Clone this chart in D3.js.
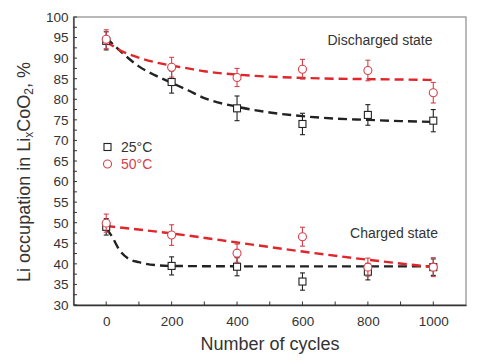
<!DOCTYPE html>
<html><head><meta charset="utf-8">
<script src="https://cdn.jsdelivr.net/npm/d3@7"></script>
<style>body{margin:0;background:#fff}svg{display:block}text{font-family:"Liberation Sans",Arial,sans-serif}</style>
</head><body><svg id="c" width="478" height="364"></svg>
<script>
const cycles = [0, 200, 400, 600, 800, 1000];
// Discharged state
const dis25 = [94.2, 84.2, 77.8, 74.0, 76.2, 74.8];
const dis25Err = [2.2, 2.7, 3.0, 2.6, 2.5, 2.7];
const dis50 = [94.6, 87.8, 85.3, 87.3, 87.0, 81.6];
const dis50Err = [2.3, 2.4, 2.2, 2.4, 2.5, 2.5];
// Charged state
const chg25 = [49.0, 39.5, 39.3, 35.7, 38.1, 39.2];
const chg25Err = [2.0, 2.2, 2.2, 2.1, 2.0, 2.0];
const chg50 = [49.9, 47.0, 42.6, 46.6, 39.2, 39.2];
const chg50Err = [2.2, 2.5, 2.2, 2.3, 2.2, 2.3];
// Fit curves: [cycles, value]
const fitDis25 = [[0,95.0],[50,91.2],[100,88.0],[150,85.8],[200,84.0],[250,82.2],[300,80.3],[400,78.2],[500,76.8],[600,75.9],[700,75.3],[800,75.0],[900,74.7],[1000,74.5]];
const fitDis50 = [[0,94.0],[50,91.6],[100,90.1],[150,89.0],[200,88.2],[250,87.5],[300,86.8],[400,86.0],[500,85.5],[600,85.2],[700,85.0],[800,84.9],[900,84.8],[1000,84.7]];
const fitChg25 = [[0,48.5],[15,47.0],[40,43.4],[65,41.4],[100,40.4],[150,39.7],[200,39.5],[400,39.4],[600,39.4],[800,39.4],[1000,39.4]];
const fitChg50 = [[0,49.2],[200,47.4],[400,45.2],[600,43.0],[800,41.0],[1000,39.2]];
const yTicks = [30,35,40,45,50,55,60,65,70,75,80,85,90,95,100];
const xTicks = [0,200,400,600,800,1000];
const legendLabels = ["25°C","50°C"];

const BLACK = "#222", RED = "#e0252b", RED_MK = "#d8404a";
const svg = d3.select("#c");
const x = d3.scaleLinear().domain([-100,1100]).range([73.5,466]);
const y = d3.scaleLinear().domain([30,100]).range([305,17]);

// frame
svg.append("rect").attr("x",x(-100)).attr("y",y(100)).attr("width",x(1100)-x(-100)).attr("height",y(30)-y(100))
  .attr("fill","none").attr("stroke","#8a8a8a").attr("stroke-width",1.2);

// axes
const yAxis = svg.append("g").attr("transform",`translate(${x(-100)},0)`)
  .call(d3.axisLeft(y).tickValues(yTicks).tickSize(0).tickPadding(5));
yAxis.select(".domain").attr("stroke","#333").attr("stroke-width",1.3);
yAxis.selectAll("text").attr("font-size",13.5).attr("fill","#333");
const yMinor = d3.range(30,100.01,2.5);
svg.append("g").selectAll("line").data(yMinor).join("line")
  .attr("x1",x(-100)).attr("x2",x(-100)+3.5).attr("y1",d=>y(d)).attr("y2",d=>y(d))
  .attr("stroke","#333").attr("stroke-width",1);

const xAxis = svg.append("g").attr("transform",`translate(0,${y(30)})`)
  .call(d3.axisBottom(x).tickValues(xTicks).tickFormat(d3.format("d")).tickSize(0).tickPadding(11));
xAxis.select(".domain").attr("stroke","#333").attr("stroke-width",1.3);
xAxis.selectAll("text").attr("font-size",13.5).attr("fill","#333");
const xMinor = d3.range(0,1001,100);
svg.append("g").selectAll("line").data(xMinor).join("line")
  .attr("x1",d=>x(d)).attr("x2",d=>x(d)).attr("y1",y(30)).attr("y2",y(30)-3.5)
  .attr("stroke","#333").attr("stroke-width",1);

// fits
const line = d3.line().x(d=>x(d[0])).y(d=>y(d[1])).curve(d3.curveMonotoneX);
[[fitDis25,BLACK],[fitChg25,BLACK],[fitDis50,RED],[fitChg50,RED]].forEach(([f,c])=>{
  svg.append("path").attr("d",line(f)).attr("fill","none").attr("stroke",c)
    .attr("stroke-width",2.4).attr("stroke-dasharray","9,5");
});

function errbars(vals, errs, color){
  const g = svg.append("g").attr("stroke",color).attr("stroke-width",1.1);
  cycles.forEach((c,i)=>{
    const cx = x(c), t = y(vals[i]+errs[i]), b = y(vals[i]-errs[i]);
    g.append("line").attr("x1",cx).attr("x2",cx).attr("y1",t).attr("y2",b);
    g.append("line").attr("x1",cx-2.5).attr("x2",cx+2.5).attr("y1",t).attr("y2",t);
    g.append("line").attr("x1",cx-2.5).attr("x2",cx+2.5).attr("y1",b).attr("y2",b);
  });
}
function squares(vals){
  svg.append("g").selectAll("rect").data(vals).join("rect")
    .attr("x",(d,i)=>x(cycles[i])-3.5).attr("y",d=>y(d)-3.5).attr("width",7).attr("height",7)
    .attr("fill","#fff").attr("stroke",BLACK).attr("stroke-width",1.1);
}
function circles(vals){
  svg.append("g").selectAll("circle").data(vals).join("circle")
    .attr("cx",(d,i)=>x(cycles[i])).attr("cy",d=>y(d)).attr("r",4)
    .attr("fill","#fff").attr("stroke",RED_MK).attr("stroke-width",1.1);
}
errbars(dis25,dis25Err,BLACK); errbars(chg25,chg25Err,BLACK);
squares(dis25); squares(chg25);
errbars(dis50,dis50Err,RED_MK); errbars(chg50,chg50Err,RED_MK);
circles(dis50); circles(chg50);

// annotations
svg.append("text").attr("x",380).attr("y",45).attr("text-anchor","middle").attr("font-size",14).attr("fill","#333").text("Discharged state");
svg.append("text").attr("x",394).attr("y",238).attr("text-anchor","middle").attr("font-size",14).attr("fill","#333").text("Charged state");

// legend
svg.append("rect").attr("x",104).attr("y",143.5).attr("width",7).attr("height",7).attr("fill","#fff").attr("stroke",BLACK).attr("stroke-width",1.1);
svg.append("circle").attr("cx",107.5).attr("cy",164).attr("r",4).attr("fill","#fff").attr("stroke",RED_MK).attr("stroke-width",1.1);
svg.append("text").attr("x",121).attr("y",152).attr("font-size",14).attr("fill","#333").text(legendLabels[0]);
svg.append("text").attr("x",121).attr("y",169).attr("font-size",14).attr("fill",RED_MK).text(legendLabels[1]);

// axis titles
svg.append("text").attr("x",270).attr("y",350).attr("text-anchor","middle").attr("font-size",18).attr("fill","#333").text("Number of cycles");
const yt = svg.append("text").attr("transform","translate(30,172) rotate(-90)").attr("text-anchor","middle").attr("font-size",18).attr("fill","#333");
yt.append("tspan").text("Li occupation in Li");
yt.append("tspan").attr("font-size",12).attr("dy",3).text("x");
yt.append("tspan").attr("dy",-3).text("CoO");
yt.append("tspan").attr("font-size",12).attr("dy",3).text("2");
yt.append("tspan").attr("dy",-3).text(", %");
</script></body></html>
